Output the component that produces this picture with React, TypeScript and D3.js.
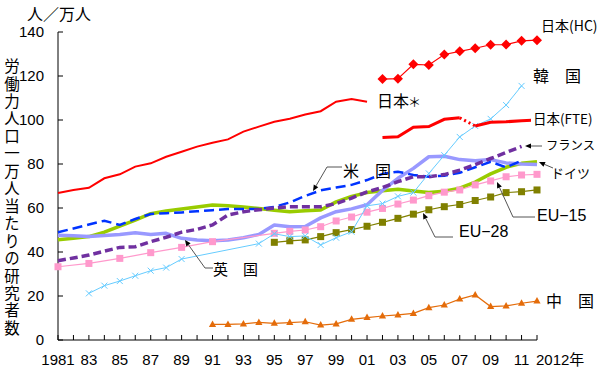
import React from 'react';
import * as d3 from 'd3';

// ---------- data ----------
const japanStarYears = [1981,1982,1983,1984,1985,1986,1987,1988,1989,1990,1991,1992,1993,1994,1995,1996,1997,1998,1999,2000,2001];
const japanStar = [66.8,68.2,69.2,73.5,75.3,78.8,80.3,83.3,85.6,87.9,89.7,91.2,94.7,97,99.2,100.6,102.5,104,108.3,109.5,108.3];

const japanHCYears = [2002,2003,2004,2005,2006,2007,2008,2009,2010,2011,2012];
const japanHC = [118.6,118.8,125.3,125,129.8,131.2,132.6,134.2,134.3,136,136.3];

const japanFTEYears = [2002,2003,2004,2005,2006,2007,2008,2009,2010,2011,2012];
const japanFTE = [92,92.4,96.7,97,100.3,101,97.3,99,99.2,99.7,100];

const koreaYears = [1983,1984,1985,1986,1987,1988,1989,1994,1995,1996,1997,1998,1999,2000,2001,2002,2003,2004,2005,2006,2007,2008,2009,2010,2011];
const korea = [21.2,24.7,26.8,29.2,31.5,32.9,36.8,43.8,48.3,47,47.3,43.2,46.5,49.2,61,62,65.3,67,75.7,84,92.3,97.3,100.5,106.8,115.5];

const usaYears = [1981,1982,1983,1984,1985,1986,1987,1988,1989,1990,1991,1992,1993,1994,1995,1996,1997,1998,1999,2000,2001,2002,2003,2004,2005,2006,2007,2008,2009,2010,2011];
const usa = [49,50.7,52.5,54.2,52.3,55,57.3,57.6,58,58.5,59,59.5,59.5,59.6,60.5,62.5,65.5,68,69.3,70.5,72.7,75.5,76.5,75,74.2,74.7,76,78.5,81,78.5,81.5];

const franceYears = usaYears;
const france = [36,37.3,38.6,40.4,42.1,42.4,44.7,46.7,49,50.3,52.3,56.8,58.3,59.2,60,60.6,60.6,60.6,62,64.5,67.3,69.3,72,74.2,74.2,75.2,77.2,79.7,82.5,85.2,88];

const germanyYears = [1981,1982,1983,1984,1985,1986,1987,1988,1989,1990,1991,1992,1993,1994,1995,1996,1997,1998,1999,2000,2001,2002,2003,2004,2005,2006,2007,2008,2009,2010,2011,2012];
const germany = [45.6,46.3,47,49,51.8,54.5,57.4,58.6,59.5,60.5,61.4,61,60.5,59.8,59,58.3,58.8,59.1,62.8,65.3,67,67.8,68.5,67.7,67,67.6,69,71.8,75.5,78.5,80.3,81];

const ukYears = germanyYears;
const uk = [47.6,47.4,47,47.5,48,48.8,48,48.5,46.2,45.5,45.1,45.5,46.5,48,52.3,51.5,51.6,55.5,58.3,59.6,61.5,68,73.5,78,83.3,83.5,82,81.5,82,80.5,80,79.8];

const eu15Years = [1981,1983,1985,1987,1989,1991,1995,1996,1997,1998,1999,2000,2001,2002,2003,2004,2005,2006,2007,2008,2009,2010,2011,2012];
const eu15 = [33.3,34.8,37.1,39.7,42.1,44.7,48.5,49.4,50,51.5,54.1,55.9,58.1,59.8,61.8,63.6,65.6,67.2,68.2,70.5,72.3,74.2,75,75.3];

const eu28Years = [1995,1996,1997,1998,1999,2000,2001,2002,2003,2004,2005,2006,2007,2008,2009,2010,2011,2012];
const eu28 = [44.4,45.1,45.5,47,48.8,50.2,51.7,53.5,55.3,57.2,59.2,60.6,61.6,63.4,65,67,67.4,68.2];

const chinaYears = [1991,1992,1993,1994,1995,1996,1997,1998,1999,2000,2001,2002,2003,2004,2005,2006,2007,2008,2009,2010,2011,2012];
const china = [7.1,7.1,7.3,8,7.6,7.9,8.3,6.8,7.3,9.4,10.2,10.9,11.4,12.1,14.7,15.9,18.6,20.5,15.2,15.5,16.7,17.7];

const yTicks = [0,20,40,60,80,100,120,140];
const xTickYears = [1981,1983,1985,1987,1989,1991,1993,1995,1997,1999,2001,2003,2005,2007,2009,2011];
const xTickLabels = ['1981','83','85','87','89','91','93','95','97','99','01','03','05','07','09','11'];
const yTitle = '労働力人口一万人当たりの研究者数';

// ---------- helpers ----------
type P = { year: number; v: number };
const zipS = (ys: number[], vs: number[]): P[] => ys.map((yr, i) => ({ year: yr, v: vs[i] }));

const x = d3.scaleLinear().domain([1981, 2012]).range([58, 537]);
const y = d3.scaleLinear().domain([0, 140]).range([340, 32]);
const line = d3.line<P>().x(d => x(d.year)).y(d => y(d.v));

const FONT = '"Liberation Sans", Arial, "Noto Sans CJK JP", sans-serif';
const JFONT = '"Noto Sans CJK JP", "Liberation Sans", sans-serif';

function Leader({ pts }: { pts: [number, number][] }) {
  const n = pts.length;
  const [x1, y1] = pts[n - 2];
  const [x2, y2] = pts[n - 1];
  const a = Math.atan2(y2 - y1, x2 - x1);
  const L = 6, Wd = 2.6;
  const bx = x2 - L * Math.cos(a), by = y2 - L * Math.sin(a);
  const p1 = [bx + Wd * Math.sin(a), by - Wd * Math.cos(a)];
  const p2 = [bx - Wd * Math.sin(a), by + Wd * Math.cos(a)];
  const d = pts.slice(0, n - 1).map((p, i) => (i ? 'L' : 'M') + p[0] + ',' + p[1]).join('') + 'L' + bx + ',' + by;
  return (
    <g>
      <path d={d} fill="none" stroke="#555" strokeWidth={1} />
      <path d={`M${x2},${y2}L${p1[0]},${p1[1]}L${p2[0]},${p2[1]}Z`} fill="#000" />
    </g>
  );
}

export default function App() {
  const jStar = zipS(japanStarYears, japanStar);
  const jHC = zipS(japanHCYears, japanHC);
  const jFTE = zipS(japanFTEYears, japanFTE);
  const kr = zipS(koreaYears, korea);
  const us = zipS(usaYears, usa);
  const fr = zipS(franceYears, france);
  const de = zipS(germanyYears, germany);
  const gb = zipS(ukYears, uk);
  const e15 = zipS(eu15Years, eu15);
  const e28 = zipS(eu28Years, eu28);
  const cn = zipS(chinaYears, china);
  const fte1 = jFTE.filter(d => d.year <= 2007);
  const fte2 = jFTE.filter(d => d.year >= 2007 && d.year <= 2008);
  const fte3 = jFTE.filter(d => d.year >= 2008);
  const allYears = d3.range(1981, 2013);

  return (
    <svg width={600} height={371} style={{ position: 'absolute', left: 0, top: 0, background: '#fff' }}>
      <rect width={600} height={371} fill="#fff" />
      {/* axes */}
      <line x1={58} x2={58} y1={y(140)} y2={y(0)} stroke="#000" strokeWidth={1} />
      <line x1={58} x2={x(2012)} y1={y(0)} y2={y(0)} stroke="#000" strokeWidth={1} />
      {yTicks.map(t => (
        <g key={t}>
          <line x1={58} x2={63} y1={y(t)} y2={y(t)} stroke="#000" />
          <text x={44} y={y(t)} dy="0.36em" textAnchor="end" fontSize={15} fontFamily={FONT}>{t}</text>
        </g>
      ))}
      {allYears.map(yr => (
        <line key={yr} x1={x(yr)} x2={x(yr)} y1={y(0)} y2={y(0) - 5} stroke="#000" />
      ))}
      {xTickYears.map((yr, i) => (
        <text key={yr} x={x(yr)} y={365} textAnchor="middle" fontSize={15} fontFamily={FONT}>{xTickLabels[i]}</text>
      ))}
      <text x={x(2012) - 1} y={365} textAnchor="start" fontSize={15} fontFamily={FONT}>2012年</text>

      {/* titles */}
      <text x={27} y={20} fontSize={16} fontFamily={JFONT}>人／万人</text>
      <text x={12} y={58.5} fontSize={15.5} fontFamily={JFONT}
        style={{ writingMode: 'vertical-rl', letterSpacing: '1.95px' }}>{yTitle}</text>

      {/* thick lines */}
      <path d={line(de)!} fill="none" stroke="#99CC00" strokeWidth={3.5} strokeLinejoin="round" />
      <path d={line(gb)!} fill="none" stroke="#9999FF" strokeWidth={3.5} strokeLinejoin="round" />
      <path d={line(us)!} fill="none" stroke="#0033FF" strokeWidth={2.5} strokeDasharray="10,5" />
      <path d={line(fr)!} fill="none" stroke="#7030A0" strokeWidth={3.5} strokeDasharray="8,4" />

      {/* EU-28 */}
      <path d={line(e28)!} fill="none" stroke="#808000" strokeWidth={1.2} />
      {e28.map(d => (
        <rect key={d.year} x={x(d.year) - 3.5} y={y(d.v) - 3.5} width={7} height={7} fill="#808000" />
      ))}
      {/* EU-15 */}
      <path d={line(e15)!} fill="none" stroke="#FF99CC" strokeWidth={1.2} />
      {e15.map(d => (
        <rect key={d.year} x={x(d.year) - 3.5} y={y(d.v) - 3.5} width={7} height={7} fill="#FF99CC" />
      ))}
      {/* Korea */}
      <path d={line(kr)!} fill="none" stroke="#66CCFF" strokeWidth={1} />
      {kr.map(d => (
        <path key={d.year} d={`M${x(d.year) - 3},${y(d.v) - 3}L${x(d.year) + 3},${y(d.v) + 3}M${x(d.year) - 3},${y(d.v) + 3}L${x(d.year) + 3},${y(d.v) - 3}`} stroke="#66CCFF" strokeWidth={1} />
      ))}
      {/* China */}
      <path d={line(cn)!} fill="none" stroke="#E46C0A" strokeWidth={1.2} />
      {cn.map(d => (
        <path key={d.year} d={`M${x(d.year)},${y(d.v) - 4}L${x(d.year) + 3.6},${y(d.v) + 2.5}L${x(d.year) - 3.6},${y(d.v) + 2.5}Z`} fill="#E46C0A" />
      ))}
      {/* Japan */}
      <path d={line(jStar)!} fill="none" stroke="#FF0000" strokeWidth={2} />
      <path d={line(fte1)!} fill="none" stroke="#FF0000" strokeWidth={3} />
      <path d={line(fte2)!} fill="none" stroke="#FF0000" strokeWidth={3} strokeDasharray="2,3" />
      <path d={line(fte3)!} fill="none" stroke="#FF0000" strokeWidth={3} />
      <path d={line(jHC)!} fill="none" stroke="#FF0000" strokeWidth={1.2} />
      {jHC.map(d => (
        <path key={d.year} d={`M${x(d.year)},${y(d.v) - 5}L${x(d.year) + 5},${y(d.v)}L${x(d.year)},${y(d.v) + 5}L${x(d.year) - 5},${y(d.v)}Z`} fill="#FF0000" />
      ))}

      {/* leaders */}
      <Leader pts={[[542, 146], [525, 146]]} />
      <Leader pts={[[553, 168], [539, 162]]} />
      <Leader pts={[[342, 167], [327, 167], [313, 191]]} />
      <Leader pts={[[213, 268], [205, 268], [185, 240]]} />
      <Leader pts={[[535, 217], [513, 217], [497, 182]]} />
      <Leader pts={[[453, 237], [435, 237], [423, 213]]} />

      {/* series labels */}
      <text x={541} y={31} fontSize={14} fontFamily={JFONT}>日本(HC)</text>
      <text x={533} y={82} fontSize={16} fontFamily={JFONT}>韓　国</text>
      <text x={377} y={107} fontSize={16} fontFamily={JFONT}>日本<tspan fontSize={13} dx={-1}>＊</tspan></text>
      <rect x={531} y={110} width={69} height={18} fill="#fff" />
      <text x={533} y={124} fontSize={13.5} fontFamily={JFONT}>日本(FTE)</text>
      <text x={546} y={150} fontSize={12.5} fontFamily={JFONT} textLength={49} lengthAdjust="spacingAndGlyphs">フランス</text>
      <text x={551} y={178} fontSize={13} fontFamily={JFONT} textLength={39} lengthAdjust="spacingAndGlyphs">ドイツ</text>
      <text x={343} y={177} fontSize={16} fontFamily={JFONT}>米　国</text>
      <text x={213} y={275} fontSize={15} fontFamily={JFONT}>英　国</text>
      <text x={537} y={221} fontSize={16} fontFamily={FONT}>EU−15</text>
      <text x={459} y={237} fontSize={16} fontFamily={FONT}>EU−28</text>
      <text x={546} y={307} fontSize={16} fontFamily={JFONT}>中　国</text>
    </svg>
  );
}
